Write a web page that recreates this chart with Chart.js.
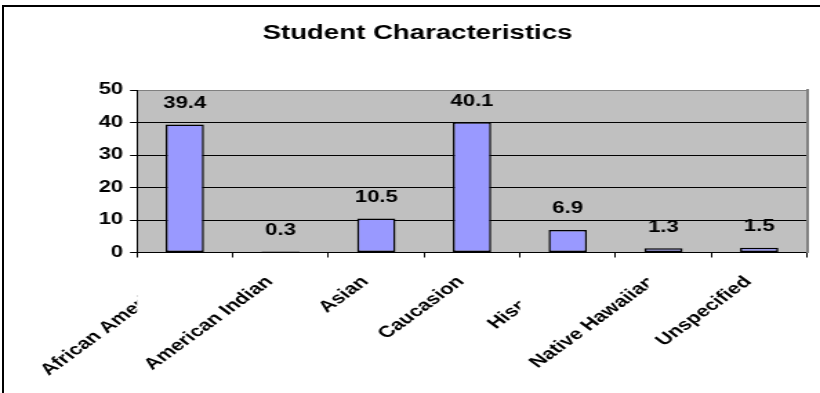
<!DOCTYPE html>
<html>
<head>
<meta charset="utf-8">
<script src="https://cdn.jsdelivr.net/npm/chart.js@4/dist/chart.umd.min.js"></script>
<style>
  html, body { margin: 0; padding: 0; background: #fff; overflow: hidden; width: 820px; height: 393px; }
  #wrap { position: absolute; left: 0; top: 0; width: 594px; height: 393px; transform: scaleX(1.3805); transform-origin: 0 0; }
  #frame { position: absolute; left: 2px; top: 5px; width: 900px; height: 500px; border-left: 2px solid #000; border-top: 2px solid #000; box-sizing: border-box; pointer-events: none; }
</style>
</head>
<body>
<div id="wrap"><canvas id="c" width="594" height="393"></canvas></div>
<div id="frame"></div>
<script>
// ---- data ----
const categories = ['African American', 'American Indian', 'Asian', 'Caucasion', 'Hispanic', 'Native Hawaiian', 'Unspecified'];
const values = [39.4, 0.3, 10.5, 40.1, 6.9, 1.3, 1.5];
const yTicks = [0, 10, 20, 30, 40, 50];
const titleText = 'Student Characteristics';

const FONT = '"Liberation Sans", Arial, Helvetica, sans-serif';

// plot-area background
const plotBg = {
  id: 'plotBg',
  beforeDraw(chart) {
    const a = chart.chartArea, ctx = chart.ctx;
    ctx.save();
    ctx.fillStyle = '#C0C0C0';
    ctx.fillRect(a.left, a.top, a.right - a.left, a.bottom - a.top);
    ctx.restore();
  }
};

// value labels above bars
const valueLabels = {
  id: 'valueLabels',
  afterDatasetsDraw(chart) {
    const ctx = chart.ctx;
    const meta = chart.getDatasetMeta(0);
    ctx.save();
    ctx.font = 'bold 16px ' + FONT;
    ctx.fillStyle = '#000';
    ctx.textAlign = 'center';
    ctx.textBaseline = 'middle';
    meta.data.forEach((bar, i) => {
      ctx.fillText(values[i].toFixed(1), bar.x, bar.y - 21);
    });
    ctx.restore();
  }
};

// category labels are cut off the way the original renders them
const clippedLabels = {
  id: 'clippedLabels',
  beforeDraw(chart, args, opts) {
    const xs = chart.scales.x;
    if (xs._clipPatched) return;
    xs._clipPatched = true;
    const H = Chart.helpers;
    xs.drawLabels = function (chartArea) {
      const ctx = this.ctx;
      const items = this.getLabelItems(chartArea);
      items.forEach((item, i) => {
        const lim = opts.clipAt[i];
        ctx.save();
        if (lim !== null && lim !== undefined) {
          const xMax = this.getPixelForValue(lim);
          ctx.beginPath();
          ctx.rect(0, 0, xMax, chart.height);
          ctx.clip();
        }
        H.renderText(ctx, item.label, 0, item.textOffset, item.font, item.options);
        ctx.restore();
      });
    };
  }
};

new Chart(document.getElementById('c'), {
  type: 'bar',
  data: {
    labels: categories,
    datasets: [{
      data: values,
      backgroundColor: '#9999FF',
      borderColor: '#000',
      borderWidth: 1.5,
      borderSkipped: false,
      barPercentage: 0.4,
      categoryPercentage: 1.0
    }]
  },
  options: {
    responsive: false,
    animation: false,
    events: [],
    layout: { padding: { left: 20.2, right: 9.4, top: 0, bottom: 0 } },
    plugins: {
      legend: { display: false },
      tooltip: { enabled: false },
      title: {
        display: true,
        text: titleText,
        color: '#000',
        font: { family: FONT, size: 20, weight: 'bold' },
        padding: { top: 21, bottom: 45 }
      },
      clippedLabels: { clipAt: [-0.5, null, null, null, 3.5, 4.84, null] }
    },
    scales: {
      x: {
        grid: { display: true, drawOnChartArea: false, drawTicks: true, tickLength: 5, color: '#000', offset: true },
        border: { display: true, color: '#000', width: 1 },
        ticks: {
          color: '#000',
          font: { family: FONT, size: 16, weight: 'bold' },
          minRotation: 45, maxRotation: 45,
          autoSkip: false,
          padding: 15,
          labelOffset: -8
        },
        afterFit(s) { s.height = 140.5; }
      },
      y: {
        min: 0, max: 50,
        afterBuildTicks(s) { s.ticks = yTicks.map(v => ({ value: v })); },
        grid: {
          color: c => (c.tick && c.tick.value === 50) ? '#808080' : '#000',
          tickColor: '#000',
          lineWidth: 1,
          drawTicks: true,
          tickLength: 5
        },
        border: { display: true, color: '#000', width: 1 },
        ticks: {
          color: '#000',
          padding: 5,
          font: { family: FONT, size: 16, weight: 'bold' }
        },
        afterFit(s) { s.width = 79; }
      },
      y2: {
        position: 'right',
        min: 0, max: 50,
        grid: { display: false, drawTicks: false },
        border: { display: true, color: '#808080', width: 2 },
        ticks: { display: false },
        afterFit(s) { s.width = 0; }
      }
    }
  },
  plugins: [plotBg, valueLabels, clippedLabels]
});
</script>
</body>
</html>
